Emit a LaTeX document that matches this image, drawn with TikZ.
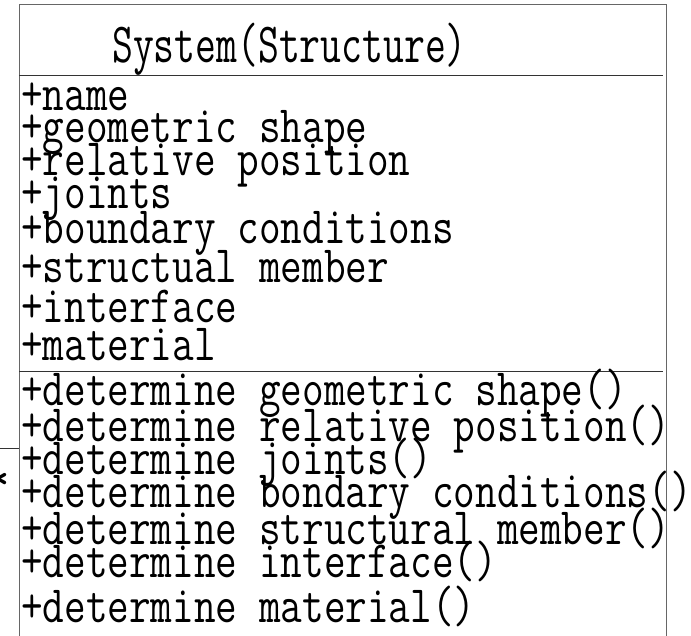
\documentclass[tikz,border=0pt]{standalone}
\usepackage{graphicx}
\tikzset{
  boxline/.style={draw=black!60, line width=1pt},
  sepline/.style={draw=black!80, line width=1pt},
  member/.style={anchor=base west, inner sep=0pt, font=\ttfamily\fontsize{42}{42}\selectfont},
  titletext/.style={anchor=base west, inner sep=0pt, font=\ttfamily\fontsize{40.5}{40}\selectfont},
}
\newcommand\tallm[1]{\scalebox{1}[1.25]{#1}}
\newcommand\talltitle[1]{\scalebox{1}[1.4]{#1}}
\begin{document}
\begin{tikzpicture}[x=1pt,y=-1pt]
\useasboundingbox (0,0) rectangle (691,636);
\clip (0,0) rectangle (691,636);
% class box
\coordinate (tl) at (19,5);
\coordinate (tr) at (666,5);
\coordinate (bl) at (19,645);
\coordinate (br) at (666,645);
\draw[boxline] (bl) -- (tl) -- (tr) -- (br);
\coordinate (s1l) at (19,76);
\coordinate (s1r) at (663,76);
\coordinate (s2l) at (19,372);
\coordinate (s2r) at (663,372);
\draw[sepline] (s1l) -- (s1r);
\draw[sepline] (s2l) -- (s2r);
% title
\node[titletext] (title) at (112,63) {\talltitle{System(Structure)}};
% attributes
\node[member] (a1) at (21,111) {\tallm{+name}};
\node[member] (a2) at (21,143) {\tallm{+geometric shape}};
\node[member] (a3) at (21,176) {\tallm{+relative position}};
\node[member] (a4) at (21,209) {\tallm{+joints}};
\node[member] (a5) at (21,244) {\tallm{+boundary conditions}};
\node[member] (a6) at (21,283) {\tallm{+structual member}};
\node[member] (a7) at (21,323) {\tallm{+interface}};
\node[member] (a8) at (21,360) {\tallm{+material}};
% methods
\node[member] (m1) at (21,406) {\tallm{+determine geometric shape()}};
\node[member] (m2) at (21,441) {\tallm{+determine relative position()}};
\node[member] (m3) at (21,474) {\tallm{+determine joints()}};
\node[member] (m4) at (21,507) {\tallm{+determine bondary conditions()}};
\node[member] (m5) at (21,544) {\tallm{+determine structural member()}};
\node[member] (m6) at (21,577) {\tallm{+determine interface()}};
\node[member] (m7) at (21,622) {\tallm{+determine material()}};
% association end
\coordinate (free) at (0,448);
\coordinate (end) at (19,448);
\draw[sepline] (free) -- (end);
\node[member, font=\ttfamily\bfseries\fontsize{44}{44}\selectfont] (mult) at (-14,492) {*};
\end{tikzpicture}
\end{document}
